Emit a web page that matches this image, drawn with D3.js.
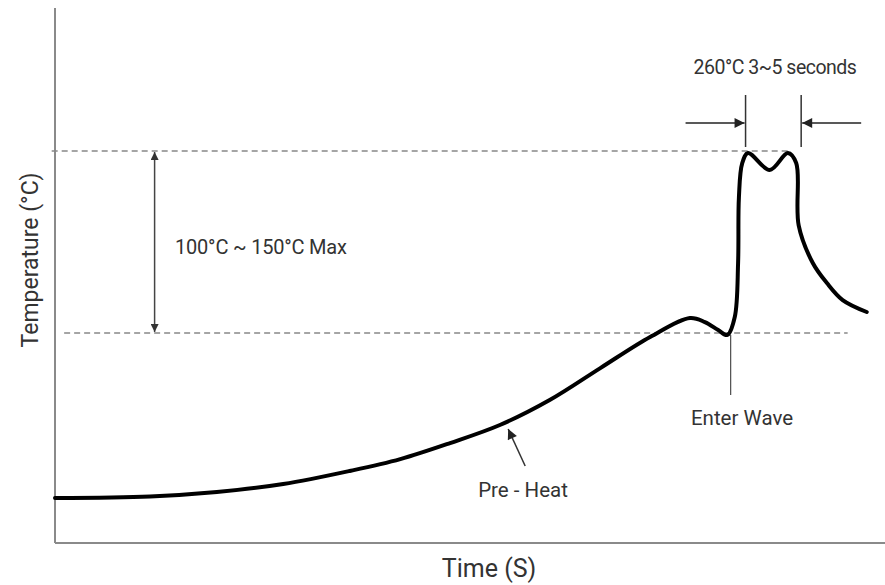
<!DOCTYPE html>
<html lang="en">
<head>
<meta charset="UTF-8">
<title>Wave Soldering Profile</title>
<script src="https://d3js.org/d3.v7.min.js"></script>
<style>
  body { margin: 0; background: #fff; }
  text { font-family: Roboto, "Noto Sans", sans-serif; fill: #333; }
</style>
</head>
<body>
<script>
    var w = 885;
    var h = 585;

    // profile: time (arbitrary units 0-100) and temperature (°C)
    var times = [0, 11.45, 19.5, 27.5, 35.5, 41.6, 47.6, 53.6, 59.6, 65.7, 71.7, 76.5, 78.3, 79.9, 81, 81.9, 82.3, 82.4, 82.8, 83.5, 86.1, 88.3, 89.3, 89.6, 91.3, 93, 94.9, 97.8];
    var temps = [50.3, 51.2, 53.9, 58.7, 66.6, 73.8, 83.5, 94.4, 109.5, 128.8, 147.6, 159.1, 156.6, 151.8, 148.8, 159.7, 192.3, 232, 252.7, 258.8, 248.5, 258.8, 252.7, 215, 192.3, 180.2, 169.9, 162.7];

    // reference levels (dashed lines) and the windows they span
    var levels = [260, 150];
    var levelStart = [-0.4, 1.1];
    var levelEnd = [88.5, 95.5];

    var peakStart = 83.2;   // start of 3~5 s window
    var peakEnd = 89.9;     // end of window
    var enterWave = 81.4;   // enter wave marker
    var preHeatT = 54.6;    // pre-heat arrow target

    var xScale = d3.scaleLinear().domain([0, 100]).range([55, 885]);
    var yScale = d3.scaleLinear().domain([150, 260]).range([333, 151]);

    var svg = d3.select("body").append("svg")
        .attr("width", w)
        .attr("height", h);

    var defs = svg.append("defs");
    defs.append("marker")
        .attr("id", "head")
        .attr("viewBox", "0 0 10 10")
        .attr("refX", 10).attr("refY", 5)
        .attr("markerWidth", 8).attr("markerHeight", 8)
        .attr("markerUnits", "userSpaceOnUse")
        .attr("orient", "auto-start-reverse")
        .append("path")
        .attr("d", "M0,0 L10,5 L0,10 Z")
        .attr("fill", "#333");
    defs.append("marker")
        .attr("id", "bighead")
        .attr("viewBox", "0 0 10 10")
        .attr("refX", 10).attr("refY", 5)
        .attr("markerWidth", 12).attr("markerHeight", 10)
        .attr("markerUnits", "userSpaceOnUse")
        .attr("orient", "auto-start-reverse")
        .append("path")
        .attr("d", "M0,0 L10,5 L0,10 Z")
        .attr("fill", "#222");

    // axes (no ticks)
    svg.append("line")
        .attr("x1", xScale(0)).attr("x2", xScale(0))
        .attr("y1", 8).attr("y2", 543)
        .attr("stroke", "#8a8a8a").attr("stroke-width", 2);
    svg.append("line")
        .attr("x1", xScale(0)).attr("x2", xScale(100))
        .attr("y1", 543).attr("y2", 543)
        .attr("stroke", "#8a8a8a").attr("stroke-width", 2);

    // dashed reference lines
    svg.selectAll(".level")
        .data(levels)
        .enter()
        .append("line")
        .attr("class", "level")
        .attr("x1", function (d, i) { return xScale(levelStart[i]); })
        .attr("x2", function (d, i) { return xScale(levelEnd[i]); })
        .attr("y1", function (d) { return yScale(d); })
        .attr("y2", function (d) { return yScale(d); })
        .attr("stroke", "#888")
        .attr("stroke-width", 1.5)
        .attr("stroke-dasharray", "6,4");

    // double arrow between the levels
    svg.append("line")
        .attr("x1", xScale(12)).attr("x2", xScale(12))
        .attr("y1", yScale(levels[0]) + 1).attr("y2", yScale(levels[1]) - 1)
        .attr("stroke", "#444").attr("stroke-width", 1.5)
        .attr("marker-start", "url(#head)")
        .attr("marker-end", "url(#head)");
    svg.append("text")
        .attr("x", 175).attr("y", 254)
        .attr("font-size", "20px")
        .attr("letter-spacing", "-0.2px")
        .text("100°C ~ 150°C Max");

    // profile curve
    var line = d3.line()
        .x(function (d) { return xScale(d[0]); })
        .y(function (d) { return yScale(d[1]); })
        .curve(d3.curveCatmullRom.alpha(0.5));
    svg.append("path")
        .datum(d3.zip(times, temps))
        .attr("d", line)
        .attr("fill", "none")
        .attr("stroke", "#000")
        .attr("stroke-width", 4)
        .attr("stroke-linejoin", "round")
        .attr("stroke-linecap", "round");

    // peak window marks
    [peakStart, peakEnd].forEach(function (t) {
        svg.append("line")
            .attr("x1", xScale(t)).attr("x2", xScale(t))
            .attr("y1", 95).attr("y2", 147)
            .attr("stroke", "#333").attr("stroke-width", 1.5);
    });
    svg.append("line")
        .attr("x1", xScale(peakStart) - 60).attr("x2", xScale(peakStart) - 1)
        .attr("y1", 123).attr("y2", 123)
        .attr("stroke", "#222").attr("stroke-width", 1.5)
        .attr("marker-end", "url(#bighead)");
    svg.append("line")
        .attr("x1", xScale(peakEnd) + 60).attr("x2", xScale(peakEnd) + 1)
        .attr("y1", 123).attr("y2", 123)
        .attr("stroke", "#222").attr("stroke-width", 1.5)
        .attr("marker-end", "url(#bighead)");
    svg.append("text")
        .attr("x", 775).attr("y", 74)
        .attr("text-anchor", "middle")
        .attr("font-size", "19.5px")
        .attr("letter-spacing", "-0.5px")
        .text("260°C 3~5 seconds");

    // enter wave marker
    svg.append("line")
        .attr("x1", xScale(enterWave)).attr("x2", xScale(enterWave))
        .attr("y1", yScale(levels[1]) + 2).attr("y2", 395)
        .attr("stroke", "#555").attr("stroke-width", 1.3);
    svg.append("text")
        .attr("x", 742).attr("y", 425)
        .attr("text-anchor", "middle")
        .attr("font-size", "20.5px")
        .text("Enter Wave");

    // pre-heat arrow
    svg.append("line")
        .attr("x1", xScale(preHeatT) + 17).attr("x2", xScale(preHeatT))
        .attr("y1", 466).attr("y2", 429)
        .attr("stroke", "#333").attr("stroke-width", 1.5)
        .attr("marker-end", "url(#bighead)");
    svg.append("text")
        .attr("x", 523).attr("y", 497)
        .attr("text-anchor", "middle")
        .attr("font-size", "20.5px")
        .text("Pre - Heat");

    // axis titles
    svg.append("text")
        .attr("transform", "translate(38,260) rotate(-90)")
        .attr("text-anchor", "middle")
        .attr("font-size", "23px")
        .text("Temperature (°C)");
    svg.append("text")
        .attr("x", 489).attr("y", 577)
        .attr("text-anchor", "middle")
        .attr("font-size", "25px")
        .text("Time (S)");
</script>
</body>
</html>
